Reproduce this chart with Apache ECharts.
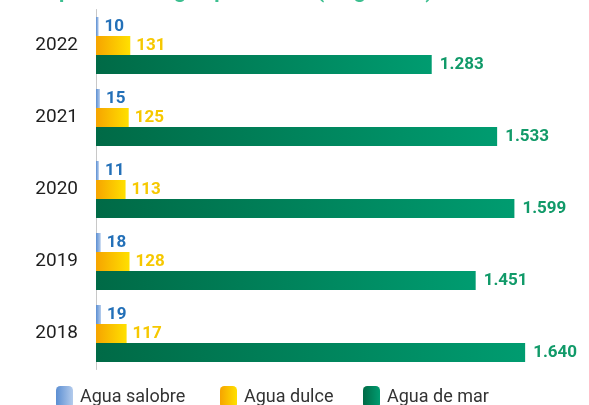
<!DOCTYPE html>
<html>
<head>
<meta charset="utf-8">
<script src="https://cdn.jsdelivr.net/npm/echarts@6/dist/echarts.min.js"></script>
<style>
  html, body { margin: 0; padding: 0; background: #fff; }
  #chart { width: 589px; height: 405px; }
</style>
</head>
<body>
<div id="chart"></div>
<script>
// Water withdrawal by source, per year
const years = ['2022', '2021', '2020', '2019', '2018'];
const salobre = [10, 15, 11, 18, 19];
const dulce = [131, 125, 113, 128, 117];
const mar = [1283, 1533, 1599, 1451, 1640];
const seriesNames = ['Agua salobre', 'Agua dulce', 'Agua de mar'];

const fmt = v => String(v).replace(/\B(?=(\d{3})+(?!\d))/g, '.');

function grad(c0, c1) {
  return new echarts.graphic.LinearGradient(0, 0, 1, 0, [
    { offset: 0, color: c0 },
    { offset: 1, color: c1 }
  ]);
}

const labelBase = {
  show: true,
  position: 'right',
  distance: 6,
  fontFamily: 'Roboto',
  fontWeight: 'bold',
  fontSize: 17,
  formatter: p => fmt(p.value)
};

const legendText = { fontFamily: 'Roboto', fontSize: 18, color: '#333', padding: [0, 0, 0, 2] };
const legendBase = { top: 386, padding: 0, itemWidth: 17, itemHeight: 22, itemGap: 0, textStyle: legendText };

const chart = echarts.init(document.getElementById('chart'), null, { renderer: 'canvas' });

chart.setOption({
  animation: false,
  title: {
    text: 'Captación de agua por fuente (megalitros)',
    left: 34,
    top: -18,
    padding: 0,
    textStyle: { color: '#3dbf90', fontFamily: 'Roboto', fontWeight: 'bold', fontSize: 21 }
  },
  grid: { left: 96, top: 9.5, width: 471, height: 360, containLabel: false },
  xAxis: {
    type: 'value',
    min: 0,
    max: 1800,
    show: false
  },
  yAxis: {
    type: 'category',
    data: years,
    inverse: true,
    axisLine: { show: true, lineStyle: { color: '#c8c8c8', width: 1 } },
    axisTick: { show: false },
    axisLabel: { margin: 18, color: '#1e1e1e', fontFamily: 'Roboto', fontSize: 19 }
  },
  legend: [
    Object.assign({ data: [seriesNames[0]], left: 56 }, legendBase),
    Object.assign({ data: [seriesNames[1]], left: 220 }, legendBase),
    Object.assign({ data: [seriesNames[2]], left: 363 }, legendBase)
  ],
  series: [
    {
      name: seriesNames[0],
      type: 'bar',
      data: salobre,
      barWidth: 19,
      barGap: '0%',
      barCategoryGap: '21%',
      itemStyle: { color: grad('#5b8ed2', '#b3cbec') },
      label: Object.assign({}, labelBase, { color: '#2370b8' })
    },
    {
      name: seriesNames[1],
      type: 'bar',
      data: dulce,
      barWidth: 19,
      barGap: '0%',
      itemStyle: { color: grad('#f6a400', '#ffe000') },
      label: Object.assign({}, labelBase, { color: '#f6c800' })
    },
    {
      name: seriesNames[2],
      type: 'bar',
      data: mar,
      barWidth: 19,
      barGap: '0%',
      itemStyle: { color: grad('#006a46', '#009c70') },
      label: Object.assign({}, labelBase, { color: '#119a69', distance: 8 })
    }
  ]
});
</script>
</body>
</html>
